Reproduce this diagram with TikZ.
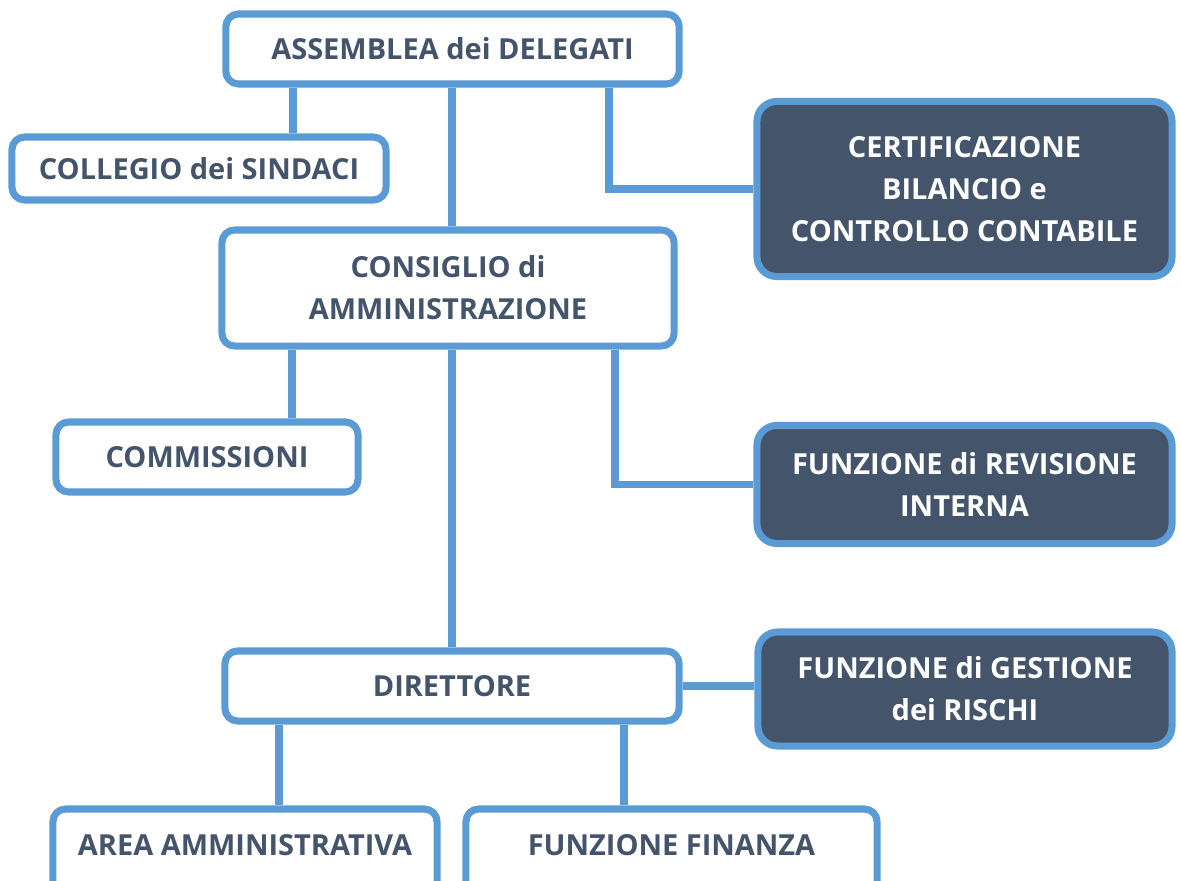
\documentclass[tikz,border=0pt]{standalone}
\usepackage{fontspec}
\setmainfont{Open Sans}
\usetikzlibrary{positioning,calc}
\definecolor{lineblue}{HTML}{5B9BD5}
\definecolor{slate}{HTML}{44546A}

\begin{document}
\begin{tikzpicture}[x=0.025cm, y=-0.025cm,
    box/.style={draw=lineblue, line width=5pt, rounded corners=9pt, fill=white,
        text=slate, font=\bfseries\fontsize{20.6}{30}\selectfont, align=center, inner sep=0pt},
    darkbox/.style={box, fill=slate, text=white, rounded corners=14pt},
    link/.style={draw=lineblue, line width=5pt, line join=miter}]
    \useasboundingbox (0,0) rectangle (1181,880);

    % top level
    \node[box, minimum width=11.33cm, minimum height=1.75cm] (asm) at (452.5,49) {ASSEMBLEA dei DELEGATI};
    \node[box, minimum width=9.35cm, minimum height=1.575cm] (col) at (199,168.5) {COLLEGIO dei SINDACI};
    \node[darkbox, minimum width=10.375cm, minimum height=4.375cm] (cert) at (964.5,189) {CERTIFICAZIONE\\BILANCIO e\\CONTROLLO CONTABILE};

    % board
    \node[box, minimum width=11.3cm, minimum height=2.9cm] (cons) at (448,288) {CONSIGLIO di\\AMMINISTRAZIONE};
    \node[box, minimum width=7.55cm, minimum height=1.75cm] (com) at (207,457) {COMMISSIONI};
    \node[darkbox, minimum width=10.375cm, minimum height=2.95cm] (rev) at (964.5,484.5) {FUNZIONE di REVISIONE\\INTERNA};

    % direction
    \node[box, minimum width=11.35cm, minimum height=1.75cm] (dir) at (452,686) {DIRETTORE};
    \node[darkbox, minimum width=10.35cm, minimum height=2.85cm] (ges) at (965,689) {FUNZIONE di GESTIONE\\dei RISCHI};
    \node[box, minimum width=9.6cm, minimum height=2.3cm, text depth=14pt] (area) at (245,855) {AREA AMMINISTRATIVA};
    \node[box, minimum width=10.275cm, minimum height=2.3cm, text depth=14pt] (fin) at (671.5,855) {FUNZIONE FINANZA};

    % links
    \foreach \a/\b/\x in {asm/col/293, asm/cons/452, cons/com/292, cons/dir/452, dir/area/279, dir/fin/624}
        \draw[link] (\a.south -| \x,0) -- (\b.north -| \x,0);
    \draw[link] (asm.south -| 609,0) |- (cert.west);
    \draw[link] (cons.south -| 615,0) |- (rev.west);
    \draw[link] (dir.east) -- (ges.west |- dir.east);
\end{tikzpicture}
\end{document}
